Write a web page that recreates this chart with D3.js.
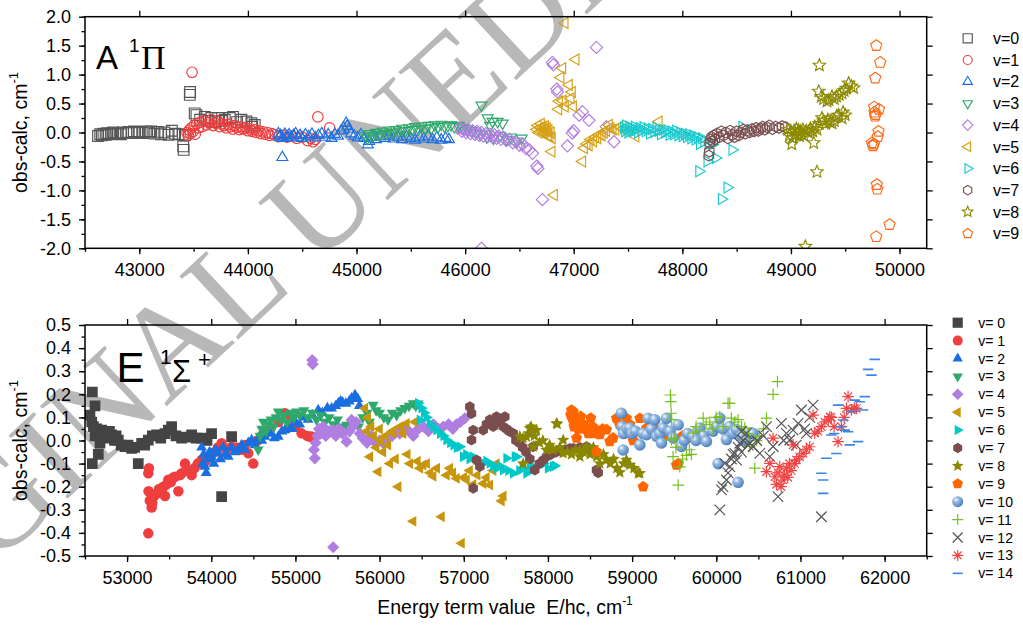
<!DOCTYPE html>
<html><head><meta charset="utf-8">
<script src="https://cdn.jsdelivr.net/npm/d3@7"></script>
<style>body{margin:0;background:#fff}svg{display:block}text{font-family:"Liberation Sans",Arial,sans-serif}</style>
</head><body><svg id="c" width="1023" height="625"></svg>
<script>
// ---------- DATA ----------
const topXTicks = [43000,44000,45000,46000,47000,48000,49000,50000];
const topYTicks = [-2,-1.5,-1,-0.5,0,0.5,1,1.5,2];
const botXTicks = [53000,54000,55000,56000,57000,58000,59000,60000,61000,62000];
const botYTicks = [-0.5,-0.4,-0.3,-0.2,-0.1,0,0.1,0.2,0.3,0.4,0.5];
const topLabels = ["v=0","v=1","v=2","v=3","v=4","v=5","v=6","v=7","v=8","v=9"];
const botLabels = ["v= 0","v= 1","v= 2","v= 3","v= 4","v= 5","v= 6","v= 7","v= 8","v= 9","v= 10","v= 11","v= 12","v= 13","v= 14"];

// A 1Pi panel: [E/hc, obs-calc]
const A0 = [[42620,-0.06],[42640,-0.03],[42655,-0.05],[42670,-0.02],[42690,-0.04],[42705,-0.01],[42720,-0.03],[42740,-0.02],[42760,0.0],[42780,-0.02],[42800,-0.01],[42830,-0.03],[42850,0.0],[42880,-0.01],[42900,0.01],[42930,-0.01],[42950,0.02],[42980,0.0],[43000,0.01],[43030,-0.01],[43060,0.02],[43090,0.0],[43110,0.02],[43140,-0.02],[43170,0.01],[43200,-0.03],[43230,0.0],[43270,-0.04],[43300,0.03],[43330,-0.02],[43360,-0.03],[43400,-0.04],[43420,-0.05],[43404,-0.24],[43408,-0.3],[43465,0.65],[43468,0.7],[43510,0.33],[43526,0.3],[43560,0.22],[43603,0.27],[43640,0.2],[43664,0.25],[43700,0.18],[43726,0.25],[43760,0.2],[43787,0.22],[43833,0.25],[43863,0.27],[43900,0.18],[43940,0.22],[43986,0.19],[44032,0.16],[44063,0.13],[44040,0.1]];
const A1 = [[43440,0.0],[43450,-0.05],[43460,0.04],[43470,-0.02],[43480,0.08],[43486,1.04],[43495,0.02],[43505,0.12],[43515,-0.03],[43530,0.15],[43545,0.08],[43560,0.18],[43580,0.1],[43600,0.2],[43620,0.13],[43640,0.17],[43660,0.22],[43680,0.12],[43700,0.16],[43720,0.2],[43740,0.1],[43760,0.15],[43780,0.12],[43800,0.08],[43820,0.14],[43840,0.1],[43860,0.06],[43880,0.12],[43900,0.09],[43920,0.05],[43940,0.1],[43960,0.06],[43980,0.08],[44000,0.03],[44020,0.06],[44040,0.02],[44060,0.05],[44080,0.0],[44100,0.03],[44120,-0.02],[44140,0.01],[44160,-0.03],[44180,0.0],[44200,-0.05],[44220,-0.02],[44250,-0.04],[44280,-0.07],[44320,-0.05],[44360,-0.08],[44400,-0.06],[44450,-0.1],[44500,-0.08],[44550,-0.14],[44580,-0.1],[44600,-0.16],[44620,-0.12],[44644,0.27],[44752,0.08]];
const A2 = [[44280,-0.02],[44290,-0.08],[44300,-0.05],[44317,-0.43],[44320,-0.1],[44340,-0.03],[44360,-0.07],[44380,-0.04],[44400,-0.09],[44420,-0.05],[44440,-0.02],[44460,-0.08],[44480,-0.05],[44500,-0.1],[44530,-0.04],[44560,-0.07],[44590,-0.03],[44620,-0.09],[44650,-0.05],[44680,-0.02],[44710,-0.08],[44740,-0.04],[44770,-0.1],[44800,-0.03],[44830,-0.06],[44860,0.03],[44880,0.08],[44905,0.16],[44915,0.11],[44930,0.05],[44950,-0.02],[44980,-0.06],[45010,-0.09],[45040,-0.04],[45070,-0.1],[45104,-0.21],[45115,-0.15],[45140,-0.08],[45180,-0.12],[45220,-0.07],[45260,-0.1],[45300,-0.06],[45340,-0.11],[45380,-0.08],[45420,-0.12],[45460,-0.07],[45500,-0.1],[45540,-0.13],[45580,-0.08],[45620,-0.11],[45660,-0.07],[45700,-0.12],[45740,-0.09],[45780,-0.13],[45820,-0.1],[45850,-0.12]];
const A3 = [[45080,-0.05],[45100,-0.1],[45120,-0.02],[45150,-0.06],[45180,0.0],[45210,-0.04],[45240,0.02],[45270,-0.02],[45300,0.04],[45330,0.0],[45360,0.05],[45390,0.02],[45420,0.07],[45450,0.03],[45480,0.08],[45510,0.05],[45540,0.1],[45570,0.06],[45600,0.11],[45630,0.07],[45660,0.12],[45690,0.08],[45720,0.13],[45750,0.1],[45780,0.14],[45810,0.11],[45840,0.12],[45870,0.13],[45900,0.1],[45940,0.12],[45980,0.08],[46020,0.06],[46060,0.03],[46100,0.0],[46140,-0.03],[46150,0.47],[46207,0.25],[46230,0.12],[46253,0.19],[46299,0.19],[46345,0.16],[46200,-0.08],[46260,-0.1],[46320,-0.05],[46380,-0.12],[46420,-0.08],[46480,-0.15],[46520,-0.1]];
const A4 = [[45950,0.08],[45970,0.02],[45990,0.06],[46010,0.0],[46030,0.05],[46050,-0.02],[46070,0.03],[46090,-0.03],[46110,0.02],[46130,-0.05],[46150,0.0],[46170,-0.06],[46190,-0.02],[46210,-0.07],[46230,-0.03],[46250,-0.08],[46270,-0.04],[46290,-0.1],[46310,-0.06],[46330,-0.12],[46350,-0.08],[46380,-0.14],[46410,-0.12],[46440,-0.18],[46470,-0.16],[46500,-0.22],[46530,-0.2],[46560,-0.28],[46590,-0.3],[46620,-0.36],[46660,-0.58],[46670,-0.62],[46150,-2.0],[46712,-1.16],[46804,1.21],[46812,1.17],[46844,0.75],[46850,0.7],[46942,-0.23],[46988,-0.01],[47000,0.03],[47050,0.3],[47080,0.36],[47141,0.21],[47209,1.47],[47371,-0.16],[47300,0.1]];
const A5 = [[46660,0.05],[46670,0.12],[46680,0.0],[46690,0.08],[46700,0.15],[46710,0.03],[46715,0.1],[46725,-0.02],[46730,0.06],[46740,0.11],[46750,0.02],[46755,0.07],[46765,-0.05],[46770,0.04],[46780,-0.08],[46790,0.0],[46800,-0.1],[46798,-0.33],[46820,-1.08],[46918,1.89],[46896,1.11],[46880,0.95],[47019,1.26],[46957,0.82],[46900,0.55],[46920,0.45],[46973,0.59],[46985,0.7],[46995,0.45],[46866,0.54],[46860,0.4],[47080,-0.5],[47096,-0.27],[47120,-0.2],[47140,-0.22],[47157,-0.12],[47180,-0.15],[47200,-0.08],[47220,-0.1],[47240,-0.03],[47260,-0.05],[47280,0.0],[47300,0.03],[47325,0.13],[47340,0.08],[47360,0.05],[47386,0.05],[47420,0.1],[47450,0.06],[47785,0.19],[47571,-0.07]];
const A6 = [[47460,0.08],[47470,0.02],[47480,0.12],[47490,0.05],[47500,0.0],[47510,0.1],[47520,0.04],[47530,0.08],[47545,0.02],[47560,0.1],[47575,0.05],[47590,0.0],[47605,0.08],[47620,0.03],[47640,0.09],[47660,0.02],[47680,0.07],[47700,-0.02],[47720,0.06],[47740,0.01],[47760,0.08],[47780,0.03],[47800,-0.03],[47820,0.05],[47840,0.0],[47860,0.04],[47880,-0.04],[47900,0.02],[47920,-0.03],[47940,0.03],[47960,-0.05],[47980,0.0],[48000,-0.06],[48020,-0.02],[48040,-0.08],[48060,-0.03],[48080,-0.1],[48100,-0.05],[48120,-0.12],[48140,-0.08],[48160,-0.2],[48180,-0.1],[48200,-0.15],[48240,-0.2],[48274,-0.21],[48153,-0.67],[48229,-0.5],[48306,-0.44],[48413,-0.95],[48361,-1.15],[48459,-0.3],[48550,0.1]];
const A7 = [[48244,-0.4],[48248,-0.33],[48252,-0.18],[48260,-0.12],[48270,-0.08],[48280,-0.15],[48290,-0.05],[48300,-0.12],[48320,-0.02],[48340,-0.08],[48360,0.02],[48380,-0.05],[48400,0.0],[48420,-0.1],[48440,0.03],[48460,-0.04],[48480,-0.08],[48500,0.02],[48520,-0.05],[48540,0.0],[48560,0.05],[48580,-0.02],[48600,0.04],[48620,0.0],[48640,0.06],[48660,0.02],[48680,0.08],[48700,0.03],[48720,0.07],[48740,0.1],[48760,0.05],[48780,0.09],[48800,0.12],[48830,0.06],[48860,0.1],[48890,0.08],[48920,0.11],[48950,0.09]];
const A8 = [[48970,0.05],[48985,-0.05],[49000,0.02],[49008,-0.2],[49015,-0.1],[49030,0.03],[49040,-0.04],[49050,0.06],[49060,-0.02],[49070,0.04],[49080,-0.06],[49090,0.02],[49100,-0.03],[49110,0.05],[49120,-0.05],[49140,0.03],[49160,0.0],[49180,0.07],[49200,0.02],[49210,-0.18],[49220,0.1],[49240,0.05],[49260,0.15],[49286,0.25],[49300,0.2],[49320,0.15],[49340,0.22],[49360,0.18],[49378,0.16],[49400,0.2],[49420,0.28],[49439,0.3],[49470,0.25],[49480,0.35],[49500,0.3],[49256,0.71],[49280,0.62],[49300,0.58],[49332,0.54],[49350,0.56],[49378,0.62],[49400,0.58],[49420,0.62],[49445,0.65],[49470,0.68],[49490,0.72],[49510,0.76],[49531,0.85],[49555,0.8],[49577,0.77],[49262,1.16],[49240,-0.68],[49133,-1.97]];
const A9 = [[49786,1.5],[49822,1.21],[49776,0.94],[49767,0.44],[49770,0.35],[49780,0.31],[49775,0.28],[49810,0.4],[49807,0.02],[49800,-0.07],[49746,-0.18],[49755,-0.23],[49765,-0.2],[49791,-0.9],[49795,-0.98],[49908,-1.59],[49785,-1.8]];

// E 1Sigma+ panel
const E0 = [[52587,0.21],[52619,0.15],[52559,0.11],[52580,0.08],[52600,0.06],[52640,0.05],[52698,0.045],[52587,-0.1],[52658,-0.06],[52620,0.02],[52678,-0.012],[52737,0.01],[52760,0.03],[52790,0.04],[52817,0.024],[52850,0.0],[52870,0.02],[52896,0.002],[52930,-0.02],[52975,-0.027],[53010,-0.02],[53054,-0.034],[53090,-0.03],[53133,-0.1],[53173,-0.012],[53210,-0.02],[53252,0.002],[53300,0.02],[53351,0.024],[53400,0.01],[53450,0.03],[53490,0.045],[53529,0.06],[53580,0.02],[53648,0.01],[53700,0.015],[53767,0.024],[53820,0.01],[53886,0.01],[53950,0.0],[54004,0.03],[54123,-0.243],[54242,0.017]];
const E1 = [[53252,-0.402],[53252,-0.142],[53260,-0.12],[53255,-0.22],[53270,-0.26],[53292,-0.29],[53300,-0.27],[53320,-0.24],[53351,-0.23],[53380,-0.21],[53410,-0.22],[53430,-0.2],[53450,-0.24],[53470,-0.19],[53490,-0.17],[53520,-0.18],[53550,-0.16],[53569,-0.157],[53609,-0.22],[53630,-0.15],[53648,-0.142],[53688,-0.1],[53720,-0.13],[53767,-0.15],[53800,-0.12],[53840,-0.1],[53886,-0.084],[53930,-0.09],[53980,-0.07],[54040,-0.05],[54080,-0.03],[54123,-0.012],[54180,-0.04],[54242,-0.027],[54300,-0.03],[54361,-0.04],[54400,-0.02],[54440,-0.055],[54499,-0.1],[54550,0.0],[54620,0.03],[54700,0.05],[54800,0.08],[54876,0.118],[54955,0.096],[55000,0.06],[55073,0.031],[55140,0.02],[55172,0.016],[55192,0.017]];
const E2 = [[53886,-0.03],[53900,-0.1],[53910,-0.06],[53925,-0.113],[53940,-0.14],[53960,-0.08],[53980,-0.05],[54004,-0.07],[54030,-0.1],[54050,-0.04],[54084,-0.055],[54110,-0.08],[54140,-0.03],[54170,-0.06],[54202,-0.07],[54240,-0.03],[54280,-0.05],[54321,-0.04],[54360,-0.02],[54400,-0.04],[54440,-0.01],[54480,0.002],[54520,-0.02],[54560,0.01],[54600,0.0],[54638,0.017],[54700,0.03],[54750,0.01],[54796,0.017],[54840,0.04],[54876,0.045],[54920,0.06],[54960,0.05],[55000,0.08],[55050,0.07],[55100,0.1],[55150,0.09],[55200,0.11],[55271,0.132],[55320,0.12],[55380,0.14],[55430,0.139],[55480,0.15],[55509,0.161],[55536,0.17],[55560,0.165],[55600,0.16],[55640,0.17],[55667,0.183],[55707,0.197],[55740,0.18],[55760,0.15]];
const E3 = [[54558,-0.04],[54580,0.02],[54600,0.05],[54620,0.08],[54650,0.04],[54680,0.07],[54710,0.09],[54740,0.06],[54770,0.1],[54796,0.125],[54830,0.09],[54860,0.11],[54900,0.08],[54940,0.12],[54980,0.1],[55014,0.125],[55050,0.11],[55100,0.13],[55150,0.1],[55200,0.12],[55250,0.09],[55300,0.11],[55350,0.08],[55400,0.1],[55450,0.07],[55500,0.09],[55550,0.06],[55608,0.067],[55650,0.04],[55700,0.08],[55750,0.06],[55800,0.1],[55850,0.12],[55880,0.08],[55924,0.154],[55960,0.13],[56000,0.12],[56050,0.1],[56100,0.09],[56150,0.12],[56202,0.11],[56250,0.13],[56300,0.14],[56350,0.15],[56399,0.161],[56430,0.15],[56459,0.16]];
const E4 = [[55200,0.348],[55205,0.33],[55449,-0.462],[55231,-0.077],[55220,-0.04],[55240,-0.01],[55260,0.02],[55280,0.05],[55300,0.03],[55330,0.06],[55360,0.02],[55400,0.04],[55449,0.045],[55480,0.02],[55520,0.05],[55560,0.03],[55608,-0.005],[55640,0.04],[55667,0.089],[55680,0.06],[55720,0.08],[55766,0.03],[55800,0.01],[55850,-0.01],[55900,0.02],[55950,-0.01],[56000,0.0],[56043,-0.012],[56100,0.01],[56150,0.02],[56200,0.04],[56240,0.03],[56300,0.05],[56350,0.04],[56400,0.02],[56460,0.05],[56520,0.06],[56580,0.04],[56640,0.07],[56700,0.05],[56756,0.06],[56820,0.07],[56870,0.05],[56914,0.07],[56960,0.08],[57013,0.096]];
const E5 = [[55825,0.14],[55846,0.04],[55860,0.1],[55885,-0.07],[55900,0.06],[55930,0.02],[55960,-0.03],[55984,-0.135],[56000,0.05],[56010,0.0],[56040,-0.05],[56070,0.02],[56100,-0.02],[56122,-0.1],[56150,0.04],[56162,0.031],[56190,-0.08],[56221,-0.2],[56241,0.06],[56280,0.03],[56320,0.074],[56330,-0.06],[56360,-0.1],[56399,-0.35],[56420,0.08],[56450,-0.09],[56480,-0.12],[56518,-0.106],[56560,-0.1],[56600,-0.14],[56637,-0.155],[56680,-0.12],[56736,-0.33],[56795,-0.15],[56835,-0.12],[56870,-0.14],[56914,-0.164],[56974,-0.445],[57000,-0.16],[57033,-0.17],[57070,-0.13],[57112,-0.19],[57160,-0.15],[57231,-0.186],[57270,-0.16],[57310,-0.193],[57350,-0.13],[57389,-0.1],[57449,-0.262],[57470,-0.24]];
const E6 = [[56459,0.161],[56479,0.089],[56500,0.14],[56530,0.12],[56560,0.1],[56598,0.074],[56640,0.06],[56677,0.045],[56720,0.03],[56760,0.02],[56795,0.002],[56840,-0.01],[56880,-0.02],[56920,-0.03],[56954,-0.027],[56993,-0.07],[57030,-0.06],[57070,-0.08],[57110,-0.07],[57152,-0.084],[57190,-0.09],[57230,-0.1],[57270,-0.09],[57310,-0.099],[57350,-0.11],[57390,-0.12],[57430,-0.11],[57468,-0.128],[57508,-0.077],[57530,-0.13],[57587,-0.142],[57607,-0.07],[57627,-0.07],[57660,-0.13],[57700,-0.12],[57745,-0.142],[57785,-0.12],[57824,-0.113],[57880,-0.11],[57950,-0.1],[58000,-0.12],[58062,-0.113],[58082,-0.109]];
const E7 = [[57072,0.146],[57092,0.117],[57112,0.045],[57092,0.002],[57152,-0.084],[57191,-0.113],[57112,-0.207],[57231,0.045],[57270,0.07],[57310,0.09],[57350,0.06],[57389,0.103],[57420,0.08],[57468,0.06],[57488,0.103],[57508,0.05],[57540,0.04],[57587,0.031],[57620,0.0],[57666,-0.012],[57700,-0.03],[57740,-0.05],[57785,-0.08],[57824,-0.027],[57844,-0.128],[57900,-0.1],[57943,-0.085],[57983,-0.07],[58040,-0.06],[58100,-0.05],[58141,-0.041],[58200,-0.04],[58260,-0.035],[58300,-0.034],[58380,-0.03],[58458,-0.027],[58520,-0.05],[58577,-0.128],[58597,-0.14]];
const E8 = [[57666,0.017],[57705,-0.1],[57705,0.01],[57745,0.016],[57770,0.03],[57785,0.053],[57800,0.06],[57824,-0.027],[57840,0.02],[57864,0.045],[57900,-0.01],[57940,0.0],[57983,-0.041],[58020,-0.02],[58060,-0.04],[58102,0.074],[58110,0.071],[58140,-0.03],[58181,-0.055],[58181,0.002],[58230,-0.05],[58280,-0.06],[58330,-0.04],[58379,-0.041],[58379,-0.07],[58420,-0.05],[58458,-0.027],[58500,-0.06],[58540,-0.03],[58577,-0.07],[58617,-0.1],[58660,-0.06],[58696,-0.084],[58740,-0.1],[58780,-0.08],[58820,-0.12],[58854,-0.138],[58900,-0.1],[58933,-0.084],[58973,-0.106],[59020,-0.12],[59072,-0.142],[59092,-0.142]];
const E9 = [[58270,0.11],[58280,0.132],[58285,0.118],[58290,0.097],[58300,0.125],[58305,0.08],[58310,0.06],[58320,0.1],[58340,0.011],[58360,0.05],[58389,0.104],[58420,0.07],[58450,0.05],[58480,0.03],[58508,0.097],[58530,0.06],[58560,0.03],[58577,-0.048],[58600,0.04],[58617,0.026],[58650,0.05],[58696,0.047],[58735,-0.004],[58775,0.011],[58814,0.096],[58850,0.07],[58893,0.05],[58933,0.096],[58973,0.07],[59013,0.0],[59050,0.04],[59092,0.096],[59131,-0.2],[59171,0.054],[59200,0.04],[59250,0.06],[59300,0.03],[59350,0.05],[59400,0.02],[59450,0.03],[59527,-0.106],[59550,-0.1],[59600,0.02],[59685,0.011]];
const E10 = [[58873,0.118],[58880,0.06],[58893,-0.041],[58900,0.03],[58940,0.05],[58973,0.054],[59000,0.03],[59040,0.04],[59092,-0.019],[59130,0.03],[59171,0.025],[59190,0.096],[59230,0.05],[59270,0.09],[59290,0.018],[59330,0.03],[59349,-0.011],[59369,0.054],[59408,0.096],[59450,0.04],[59488,0.011],[59547,0.068],[59587,-0.026],[59620,0.0],[59660,0.03],[59725,0.018],[59760,0.0],[59804,0.054],[59850,0.02],[59883,-0.004],[59962,0.04],[60000,0.06],[60022,-0.1],[60042,0.097],[60080,0.05],[60121,0.004],[60161,0.061],[60200,0.03],[60240,0.047],[60259,-0.181],[60300,0.02],[60350,0.0],[60418,0.033],[60438,0.03]];
const E11 = [[59455,0.197],[59460,0.168],[59465,0.118],[59470,0.09],[59467,0.003],[59487,-0.07],[59500,0.01],[59520,-0.03],[59547,-0.193],[59567,-0.114],[59600,-0.08],[59646,-0.064],[59680,-0.04],[59705,-0.06],[59725,0.032],[59760,0.06],[59800,0.04],[59844,0.097],[59880,0.07],[59923,0.08],[59960,0.05],[60000,0.1],[60042,0.104],[60080,0.06],[60140,0.161],[60160,0.161],[60180,0.097],[60220,0.08],[60259,0.09],[60300,0.06],[60339,0.054],[60380,0.03],[60398,-0.026],[60458,-0.12],[60480,0.0],[60517,0.018],[60560,0.05],[60596,0.097],[60675,0.2],[60727,0.255]];
const E12 = [[60042,-0.3],[60062,-0.214],[60080,-0.2],[60101,-0.099],[60121,-0.171],[60140,-0.14],[60161,-0.113],[60180,-0.08],[60200,-0.06],[60220,-0.056],[60240,-0.085],[60260,-0.03],[60279,-0.012],[60300,-0.05],[60300,0.04],[60320,0.0],[60358,0.031],[60380,-0.02],[60398,-0.012],[60438,-0.026],[60480,0.0],[60517,-0.056],[60560,0.02],[60596,0.06],[60636,-0.07],[60675,-0.026],[60734,-0.243],[60774,0.074],[60800,0.0],[60833,0.031],[60873,0.002],[60912,0.045],[60950,-0.02],[60972,0.074],[61011,0.132],[61050,0.05],[61071,0.031],[61110,0.1],[61150,0.153],[61249,-0.33]];
const E13 = [[60596,-0.135],[60636,-0.099],[60675,0.01],[60695,-0.157],[60715,-0.19],[60734,-0.14],[60754,-0.113],[60770,-0.2],[60793,-0.171],[60810,-0.15],[60833,-0.12],[60850,-0.16],[60870,-0.1],[60890,-0.13],[60912,-0.019],[60930,-0.1],[60952,-0.084],[60990,-0.07],[61031,-0.056],[61070,-0.04],[61110,-0.027],[61150,0.11],[61170,0.031],[61209,0.04],[61249,0.06],[61290,0.08],[61330,0.09],[61348,0.103],[61368,0.1],[61400,0.06],[61447,-0.005],[61487,0.06],[61520,0.1],[61546,0.139],[61566,0.19],[61606,0.132],[61640,0.14],[61665,0.139]];
const E14 = [[61249,-0.142],[61269,-0.229],[61269,-0.171],[61308,-0.077],[61368,0.024],[61400,0.03],[61427,-0.056],[61447,0.153],[61480,0.06],[61507,0.089],[61526,0.045],[61566,0.038],[61586,-0.019],[61606,0.125],[61645,0.175],[61685,-0.005],[61705,0.168],[61744,0.132],[61764,0.19],[61804,0.308],[61843,0.283],[61883,0.351]];

const topSeries = [A0,A1,A2,A3,A4,A5,A6,A7,A8,A9];
const botSeries = [E0,E1,E2,E3,E4,E5,E6,E7,E8,E9,E10,E11,E12,E13,E14];

// ---------- STYLE ----------
const topShapes = ["square","circle","triUp","triDown","diamond","triLeft","triRight","hexagon","star","pentagon"];
const topColors = ["#555555","#f23c3c","#1f6fe0","#2ea86a","#b07de0","#d6a014","#18c8cc","#7a4f4f","#8c8a00","#ff6a14"];
const botShapes = ["square","circle","triUp","triDown","diamond","triLeft","triRight","hexagon","star","pentagon","sphere","plus","x","asterisk","dash"];
const botColors = ["#444444","#ee3e3e","#1a6ee0","#2fa86c","#b07ee0","#c8960a","#00c8c8","#7a4e4e","#8a8800","#ff6600","#6a9bd0","#77c020","#555555","#f04545","#3a85e6"];

const svg = d3.select("#c");
svg.append("rect").attr("width",1023).attr("height",625).attr("fill","#fff");
const defs = svg.append("defs");
const grad = defs.append("radialGradient").attr("id","sph").attr("cx","35%").attr("cy","32%").attr("r","70%");
grad.append("stop").attr("offset","0%").attr("stop-color","#f2f7fd");
grad.append("stop").attr("offset","35%").attr("stop-color","#93b8e0");
grad.append("stop").attr("offset","100%").attr("stop-color","#4c7fbf");

// watermark (behind)
svg.append("text").text("ORIGINAL UNEDITED MANUSCRIPT")
  .attr("transform","translate(-172,722) rotate(-43)")
  .style("font-family","'Liberation Serif','Times New Roman',serif")
  .attr("font-size",132).attr("fill","#b8b8b8");

function poly(n, r, startDeg, inner){
  const pts=[]; const m = inner ? n*2 : n;
  for(let i=0;i<m;i++){
    const a=(startDeg*Math.PI/180)+i*2*Math.PI/m;
    const rr = inner ? (i%2===0 ? r : r*inner) : r;
    pts.push([rr*Math.cos(a), rr*Math.sin(a)]);
  }
  return "M"+pts.map(p=>p[0].toFixed(2)+","+p[1].toFixed(2)).join("L")+"Z";
}
function shapePath(shape, s){
  switch(shape){
    case "square": return poly(4, s*0.72, 45);
    case "circle": return d3.symbol(d3.symbolCircle, Math.PI*Math.pow(s*0.5,2))();
    case "triUp": return poly(3, s*0.6, -90);
    case "triDown": return poly(3, s*0.6, 90);
    case "triLeft": return poly(3, s*0.6, 180);
    case "triRight": return poly(3, s*0.6, 0);
    case "diamond": return poly(4, s*0.58, -90);
    case "hexagon": return poly(6, s*0.52, -90);
    case "pentagon": return poly(5, s*0.56, -90);
    case "star": return poly(5, s*0.62, -90, 0.45);
    case "sphere": return d3.symbol(d3.symbolCircle, Math.PI*Math.pow(s*0.55,2))();
    case "plus": { const r=s*0.55; return `M${-r},0H${r}M0,${-r}V${r}`; }
    case "x": { const r=s*0.5; return `M${-r},${-r}L${r},${r}M${-r},${r}L${r},${-r}`; }
    case "asterisk": { const r=s*0.55, q=r*0.7071; return `M${-r},0H${r}M0,${-r}V${r}M${-q},${-q}L${q},${q}M${-q},${q}L${q},${-q}`; }
    case "dash": { const r=s*0.5; return `M${-r},0H${r}`; }
  }
}
function styleMarker(sel, shape, color, filled){
  if(shape==="sphere"){ sel.attr("fill","url(#sph)").attr("stroke","none"); return; }
  if(["plus","x","asterisk"].includes(shape)){ sel.attr("fill","none").attr("stroke",color).attr("stroke-width",1.2); return; }
  if(shape==="dash"){ sel.attr("fill","none").attr("stroke",color).attr("stroke-width",1.6); return; }
  if(filled) sel.attr("fill",color).attr("stroke","none");
  else sel.attr("fill","none").attr("stroke",color).attr("stroke-width",1.15);
}

function panel(cfg){
  const x = d3.scaleLinear().domain(cfg.xDom).range([85, 926.7]);
  const y = d3.scaleLinear().domain(cfg.yDom).range([cfg.bottom, cfg.top]);
  const g = svg.append("g");
  const id = "clip"+cfg.name;
  defs.append("clipPath").attr("id",id).append("rect")
    .attr("x",85).attr("y",cfg.top).attr("width",841.7).attr("height",cfg.bottom-cfg.top);
  const pg = g.append("g").attr("clip-path",`url(#${id})`);
  cfg.series.forEach((data,i)=>{
    const shape = cfg.shapes[i], color = cfg.colors[i];
    const sel = pg.append("g").selectAll("path").data(data).join("path")
      .attr("d", shapePath(shape, cfg.size))
      .attr("transform", d=>`translate(${x(d[0])},${y(d[1])})`);
    styleMarker(sel, shape, color, cfg.filled);
  });
  g.append("rect").attr("x",85).attr("y",cfg.top).attr("width",841.7).attr("height",cfg.bottom-cfg.top)
    .attr("fill","none").attr("stroke","#000").attr("stroke-width",1.5);
  const xMinor = d3.range(cfg.xDom[0], cfg.xDom[1]+1, cfg.xMinorStep);
  const yMinor = cfg.yMinor;
  const axes = [];
  axes.push(g.append("g").attr("transform",`translate(0,${cfg.bottom})`)
    .call(d3.axisBottom(x).tickValues(cfg.xTicks).tickSize(6).tickPadding(9).tickFormat(d=>String(d))));
  axes.push(g.append("g").attr("transform",`translate(0,${cfg.bottom})`)
    .call(d3.axisBottom(x).tickValues(xMinor).tickSize(3.5).tickFormat("")));
  axes.push(g.append("g").attr("transform",`translate(0,${cfg.top})`)
    .call(d3.axisTop(x).tickValues(cfg.xTicks).tickSize(6).tickFormat("")));
  axes.push(g.append("g").attr("transform",`translate(85,0)`)
    .call(d3.axisLeft(y).tickValues(cfg.yTicks).tickSize(6).tickPadding(8).tickFormat(d=>d.toFixed(1))));
  axes.push(g.append("g").attr("transform",`translate(85,0)`)
    .call(d3.axisLeft(y).tickValues(yMinor).tickSize(3.5).tickFormat("")));
  axes.push(g.append("g").attr("transform",`translate(926.7,0)`)
    .call(d3.axisRight(y).tickValues(cfg.yTicks).tickSize(6).tickFormat("")));
  axes.forEach(a=>{
    a.select(".domain").remove();
    a.selectAll("line").attr("stroke","#000").attr("stroke-width",1.3);
    a.selectAll("text").attr("fill","#000").attr("font-size",18)
      .style("font-family","'Liberation Sans',Arial,sans-serif");
  });
  const yt = g.append("text").attr("transform",`translate(27,${(cfg.top+cfg.bottom)/2}) rotate(-90)`)
    .attr("text-anchor","middle").attr("font-size",19.5).attr("fill","#000");
  yt.append("tspan").text("obs-calc, cm");
  yt.append("tspan").text("-1").attr("font-size",13).attr("dy","-0.7em");
  const lg = g.append("g");
  cfg.labels.forEach((lab,i)=>{
    const ly = cfg.legY + i*cfg.legStep;
    const m = lg.append("path").attr("d", shapePath(cfg.shapes[i], cfg.legSize))
      .attr("transform",`translate(${cfg.legX},${ly})`);
    styleMarker(m, cfg.shapes[i], cfg.colors[i], cfg.filled);
    lg.append("text").attr("x",cfg.legTX).attr("y",ly).attr("dy","0.36em")
      .attr("font-size",cfg.legFont).attr("fill","#000").style("white-space","pre").text(lab);
  });
  return g;
}

panel({name:"A", xDom:[42500,50250], yDom:[-2,2], top:16.7, bottom:248.3,
  xTicks: topXTicks, yTicks: topYTicks, xMinorStep:500,
  yMinor: d3.range(-8,9).map(i=>i*0.25),
  series: topSeries, shapes: topShapes, colors: topColors, filled:false, size:10.5,
  labels: topLabels, legX:967.7, legTX:993, legY:38.3, legStep:21.7, legSize:9, legFont:16});

panel({name:"E", xDom:[52500,62500], yDom:[-0.5,0.5], top:325, bottom:556,
  xTicks: botXTicks, yTicks: botYTicks, xMinorStep:500,
  yMinor: d3.range(-10,11).map(i=>i*0.05),
  series: botSeries, shapes: botShapes, colors: botColors, filled:true, size:10.5,
  labels: botLabels, legX:957.7, legTX:978.3, legY:322.7, legStep:17.9, legSize:10, legFont:14});

// panel titles
const t1 = svg.append("g");
t1.append("text").attr("x",96).attr("y",69).attr("font-size",33).text("A");
t1.append("text").attr("x",129).attr("y",52).attr("font-size",19).text("1");
t1.append("text").attr("x",141).attr("y",69).attr("font-size",34)
  .style("font-family","'Liberation Serif','Times New Roman',serif").text("Π");
const t2 = svg.append("g");
t2.append("text").attr("x",116.5).attr("y",382).attr("font-size",42).text("E");
t2.append("text").attr("x",160).attr("y",364).attr("font-size",21).text("1");
t2.append("text").attr("x",172).attr("y",382).attr("font-size",31).text("Σ");
t2.append("text").attr("x",198).attr("y",367).attr("font-size",22).text("+");

// x title
const xt = svg.append("text").attr("x",505).attr("y",614).attr("text-anchor","middle")
  .attr("font-size",19.5).style("white-space","pre");
xt.append("tspan").text("Energy term value  E/hc, cm");
xt.append("tspan").text("-1").attr("font-size",12).attr("dy","-0.75em");
</script></body></html>
